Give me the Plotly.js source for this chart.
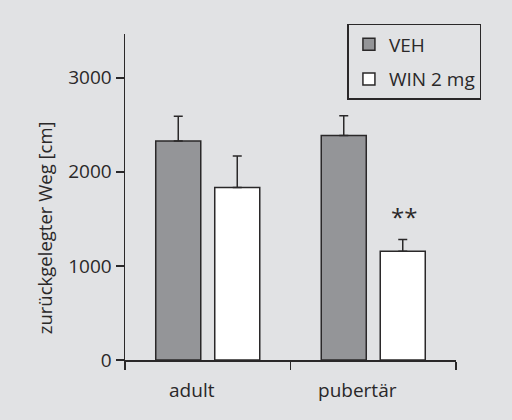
<!DOCTYPE html>
<html>
<head>
<meta charset="utf-8">
<script src="https://cdn.plot.ly/plotly-3.0.1.min.js"></script>
<style>html,body{margin:0;padding:0;background:#e1e2e4;}#chart{width:512px;height:420px;}</style>
</head>
<body>
<div id="chart"></div>
<script>
const categories = ["adult", "pubertär"];
const seriesNames = ["VEH", "WIN 2 mg"];
const vehValues = [2327, 2386];
const vehErrors = [265, 210];
const winValues = [1833, 1156];
const winErrors = [334, 124];
const yTicks = [0, 1000, 2000, 3000];
const yTitle = "zurückgelegter Weg [cm]";
const significance = "**";

const ink = "#2a2829";
const fam = "Open Sans, Noto Sans, sans-serif";
const font = {family: fam, size: 19, color: ink};

const traces = [
  {
    type: "bar", name: seriesNames[0], x: categories, y: vehValues, legendgroup: "a",
    marker: {color: "#949598", line: {color: ink, width: 1.5}},
    error_y: {type: "data", symmetric: false, array: vehErrors, arrayminus: [0, 0], color: ink, thickness: 1.5, width: 4.5}
  },
  {
    type: "bar", name: seriesNames[1], x: categories, y: winValues, legendgroup: "b",
    marker: {color: "#ffffff", line: {color: ink, width: 1.5}},
    error_y: {type: "data", symmetric: false, array: winErrors, arrayminus: [0, 0], color: ink, thickness: 1.5, width: 4.5}
  }
];

const layout = {
  width: 512, height: 420,
  paper_bgcolor: "#e1e2e4", plot_bgcolor: "#e1e2e4",
  margin: {l: 125, r: 56, t: 34, b: 60},
  font: font,
  barmode: "group", bargap: 0.287, bargroupgap: 0.237,
  showlegend: true,
  legend: {
    x: 0.672, y: 1.031, xanchor: "left", yanchor: "top",
    bgcolor: "#e1e2e4", bordercolor: ink, borderwidth: 1.5,
    font: {family: fam, size: 19, color: ink},
    tracegroupgap: 7, traceorder: "grouped"
  },
  xaxis: {
    type: "category", range: [-0.5, 1.5], tickson: "boundaries",
    showline: true, linecolor: ink, linewidth: 1.5,
    ticks: "outside", ticklen: 8, tickwidth: 1.5, tickcolor: ink,
    ticklabelshift: -16, ticklabelstandoff: 13,
    showgrid: false, zeroline: false, fixedrange: true
  },
  yaxis: {
    range: [0, 3465], tickvals: yTicks, ticktext: yTicks.map(String),
    showline: true, linecolor: ink, linewidth: 1.5,
    ticks: "outside", ticklen: 8, tickwidth: 1.5, tickcolor: ink,
    showgrid: false, zeroline: false, fixedrange: true
  },
  annotations: [
    {text: yTitle, textangle: -90, xref: "paper", yref: "paper", x: -0.243, y: 0.406,
     xanchor: "center", yanchor: "middle", showarrow: false, font: {family: fam, size: 18.5, color: ink}},
    {text: significance, xref: "x", yref: "y", x: 1, xshift: 30.5, y: winValues[1] + winErrors[1] + 250,
     yanchor: "middle", showarrow: false, font: {family: fam, size: 24, color: ink}}
  ]
};

Plotly.newPlot("chart", traces, layout, {staticPlot: true, displayModeBar: false});
</script>
</body>
</html>
